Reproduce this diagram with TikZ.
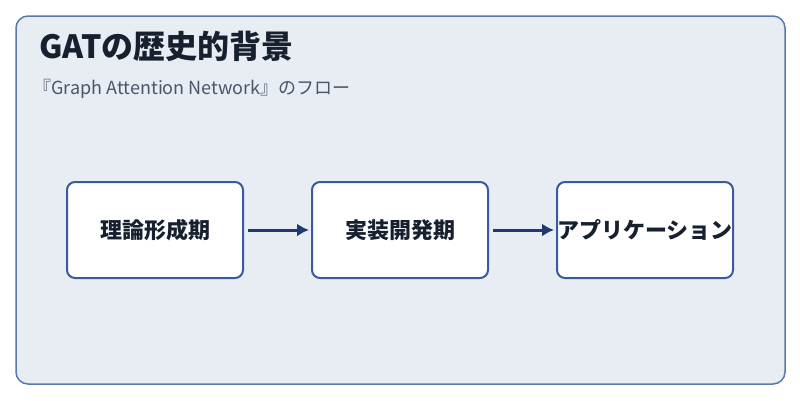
\documentclass[tikz,border=0pt]{standalone}
\usepackage{fontspec}
\setmainfont{Noto Sans CJK JP}
\usetikzlibrary{positioning}
\definecolor{panelbg}{HTML}{E7EDF2}
\definecolor{panelline}{HTML}{5A78AE}
\definecolor{boxline}{HTML}{3B5A9E}
\definecolor{arrowcol}{HTML}{1E3A70}
\definecolor{titlecol}{HTML}{17202E}
\definecolor{subcol}{HTML}{4A5568}
\tikzset{
  stage/.style={draw=boxline, line width=2pt, fill=white, rounded corners=8pt,
    minimum width=176pt, minimum height=96pt, inner sep=0pt,
    font=\fontsize{22pt}{26pt}\selectfont\bfseries, text=titlecol},
  flow/.style={draw=arrowcol, line width=3pt, -{Latex[length=12pt,width=13pt]}},
}
\usetikzlibrary{arrows.meta}
\begin{document}
\begin{tikzpicture}[x=1pt,y=-1pt]
      \useasboundingbox (0,0) rectangle (800,400);
      \fill[white] (0,0) rectangle (800,400);
      \draw[panelline, fill=panelbg, line width=1.5pt, rounded corners=12pt] (16,16) rectangle (785,384);

      \node[anchor=west, text=titlecol, font=\fontsize{32pt}{36pt}\selectfont\bfseries] (title) at (36,46) {GATの歴史的背景};
      \node[anchor=west, text=subcol, font=\fontsize{18pt}{21pt}\selectfont] (sub) at (30,89) {『Graph Attention Network』のフロー};

      \node[stage] (theory) at (155,230) {理論形成期};
      \node[stage, right=67pt of theory] (impl) {実装開発期};
      \node[stage, right=67pt of impl] (app) {アプリケーション};

      \draw[flow] ([xshift=4pt]theory.east) -- ([xshift=-2pt]impl.west);
      \draw[flow] ([xshift=4pt]impl.east) -- ([xshift=-2pt]app.west);
\end{tikzpicture}
\end{document}
